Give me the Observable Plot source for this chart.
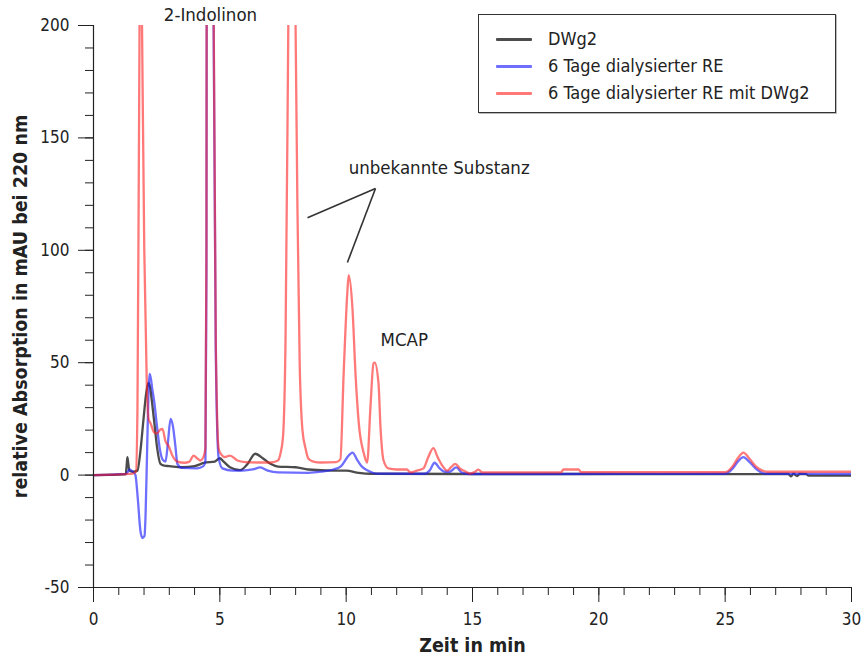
<!DOCTYPE html>
<html><head><meta charset="utf-8">
<script src="https://cdn.jsdelivr.net/npm/d3@7"></script>
<script src="https://cdn.jsdelivr.net/npm/@observablehq/plot@0.6"></script>
<style>
body{margin:0;background:#fff;font-family:"DejaVu Sans Condensed","DejaVu Sans",sans-serif;color:#222}
#wrap{position:relative;width:864px;height:660px}
#legend{position:absolute;left:478px;top:14px;width:358px;height:99px;border:1px solid #333;background:#fff;box-shadow:1px 1px 0 #bbb;box-sizing:border-box}
.item{position:absolute;left:0;height:20px;font-size:18px;line-height:20px;white-space:nowrap}
.item span.sw{position:absolute;left:17px;top:9px;width:36px;height:3px;border-radius:1px}
.item span.tx{position:absolute;left:69px;top:0}
</style></head>
<body><div id="wrap"><div id="chart"></div><div id="legend"></div></div>
<script>
const seriesNames = ["DWg2", "6 Tage dialysierter RE", "6 Tage dialysierter RE mit DWg2"];
const seriesColors = ["#000000", "#2020ff", "#ff2020"];

// [Zeit (min), Absorption (mAU)]
const dwg2 = [[0,0],[1.2,0.3],[1.28,0.5],[1.31,4],[1.34,8],[1.38,5],[1.42,2],[1.55,1.5],[1.74,2],[1.85,10],[1.98,25],[2.08,36],[2.17,41],[2.24,39],[2.32,32],[2.42,22],[2.52,12],[2.65,5],[2.8,4.2],[3.0,4],[3.5,3.5],[4.0,4],[4.4,5.5],[4.8,6],[5.0,7.5],[5.15,6],[5.4,3.5],[5.8,2.2],[6.1,5],[6.4,9.5],[6.7,7.5],[7.0,5],[7.3,3.8],[8.0,3.5],[8.5,2.5],[9.5,2],[10.0,2],[10.5,1],[11,0.6],[15,0.5],[20,0.5],[25,0.4],[27.5,0.5],[27.6,-0.6],[27.7,0.6],[27.85,-0.4],[27.95,0.5],[28.2,0.4],[28.3,-0.2],[30,-0.2]];
const re6 = [[0,0],[1.3,0.5],[1.42,2.5],[1.5,2],[1.6,1],[1.66,0],[1.75,-10],[1.86,-25],[1.94,-28],[2.02,-27],[2.06,-18],[2.12,10],[2.18,38],[2.22,45],[2.27,43],[2.33,38],[2.4,33],[2.52,21],[2.62,12],[2.73,7],[2.85,6],[2.95,15],[3.05,25],[3.14,22],[3.24,13],[3.32,5],[3.5,3.2],[4.1,3],[4.35,4],[4.43,6],[4.47,90],[4.5,450],[4.6,900],[4.67,800],[4.73,240],[4.84,55],[4.95,8],[5.1,3],[5.5,2],[5.9,2],[6.3,2.5],[6.6,3.4],[6.9,2],[7.3,1.2],[8.5,1],[9.0,1.5],[9.5,2.5],[9.8,4],[10.05,8],[10.25,10],[10.45,6.5],[10.6,4],[10.85,2],[11.2,0.7],[13.1,0.6],[13.3,2],[13.5,5.5],[13.7,3],[13.9,1.5],[14.1,1.5],[14.35,3.4],[14.6,1],[14.9,0.5],[18,0.5],[25.0,0.6],[25.3,3],[25.5,6],[25.72,8],[25.95,6],[26.2,3],[26.6,0.6],[30,0.5]];
const re6dwg2 = [[0,0],[1.5,0.5],[1.68,1.5],[1.74,30],[1.8,150],[1.86,260],[1.92,200],[2.01,100],[2.11,40],[2.18,25],[2.26,23],[2.4,19],[2.52,18.5],[2.62,20],[2.73,20.5],[2.85,15],[2.97,13],[3.12,8.7],[3.32,6],[3.6,5.5],[3.8,6],[3.96,8.7],[4.1,7.5],[4.23,6.5],[4.35,8],[4.43,12],[4.47,100],[4.5,500],[4.6,1000],[4.67,900],[4.73,250],[4.84,60],[4.95,12],[5.03,9.6],[5.2,8],[5.4,8.7],[5.7,6.5],[6.0,5.8],[6.5,5.6],[7.0,5.6],[7.3,6.5],[7.4,9.6],[7.5,17],[7.6,60],[7.71,200],[7.85,400],[7.97,230],[8.07,120],[8.16,50],[8.27,20],[8.39,12],[8.5,7.4],[8.7,6],[9.0,5.6],[9.6,5.8],[9.77,7],[9.9,45],[10.05,82],[10.1,89],[10.25,74],[10.37,45],[10.5,23],[10.7,9.6],[10.83,5.6],[10.96,30],[11.08,49.6],[11.13,50],[11.28,40.8],[11.36,21],[11.48,6.5],[11.67,3],[12.0,2.5],[12.4,2.5],[12.55,1.2],[12.8,2],[13.06,3],[13.25,8],[13.45,12],[13.62,8],[13.8,4.3],[14.0,2],[14.15,3.5],[14.32,5],[14.5,3],[14.65,2],[14.9,0.7],[15.1,1.5],[15.23,2.4],[15.4,1.2],[18.5,1.2],[18.6,2.5],[19.2,2.5],[19.3,1.3],[25.0,1.3],[25.3,4],[25.5,7.5],[25.72,10],[25.95,7.5],[26.2,4],[26.67,1.5],[30,1.5]];

const xTicks = [0, 5, 10, 15, 20, 25, 30];
const xMinor = d3.range(0, 31, 1);
const yTicks = [-50, 0, 50, 100, 150, 200];
const yMinor = d3.range(-50, 201, 10);

const labels = [
  {text: "2-Indolinon", x: 4.63, y: 204.5, anchor: "middle"},
  {text: "unbekannte Substanz", x: 10.1, y: 136.4, anchor: "start"},
  {text: "MCAP", x: 11.36, y: 59.9, anchor: "start"}
];
const pointers = [
  {x1: 11.16, y1: 127.5, x2: 8.47, y2: 114.5},
  {x1: 11.16, y1: 127.5, x2: 10.05, y2: 94.6}
];

const toRows = (arr) => arr.map(([t, v]) => ({t, v}));
const series = [dwg2, re6, re6dwg2];
const opac = [0.7, 0.65, 0.6];
const fmt = d => String(d);

const chart = Plot.plot({
  width: 864, height: 660,
  marginTop: 25, marginRight: 13, marginBottom: 73, marginLeft: 93,
  style: {fontFamily: '"DejaVu Sans Condensed","DejaVu Sans",sans-serif', color: "#222", background: "#fff"},
  x: {domain: [0, 30]},
  y: {domain: [-50, 200]},
  marks: [
    ...series.map((s, i) => Plot.line(toRows(s), {x: "t", y: "v", stroke: seriesColors[i], strokeWidth: 2.3, strokeOpacity: opac[i], curve: "monotone-x", clip: true})),
    Plot.axisX({ticks: xMinor, tickSize: 8, text: null, label: null}),
    Plot.axisX({ticks: xTicks, tickSize: 15, tickPadding: 10, fontSize: 17, tickFormat: fmt, label: "Zeit in min", labelAnchor: "center", labelArrow: "none", labelOffset: 64}),
    Plot.axisY({ticks: yMinor, tickSize: 8, text: null, label: null}),
    Plot.axisY({ticks: yTicks, tickSize: 15, tickPadding: 9, fontSize: 17, tickFormat: fmt, label: "relative Absorption in mAU bei 220 nm", labelAnchor: "center", labelArrow: "none", labelOffset: 80}),
    Plot.ruleX([0], {stroke: "#222", strokeWidth: 1.2}),
    Plot.ruleY([-50], {stroke: "#222", strokeWidth: 1.2}),
    Plot.link(pointers, {x1: "x1", y1: "y1", x2: "x2", y2: "y2", stroke: "#333", strokeWidth: 1.6}),
    Plot.text(labels.filter(d => d.anchor === "middle"), {x: "x", y: "y", text: "text", textAnchor: "middle", fontSize: 18.5, fill: "#222", lineAnchor: "middle"}),
    Plot.text(labels.filter(d => d.anchor === "start"), {x: "x", y: "y", text: "text", textAnchor: "start", fontSize: 18.5, fill: "#222", lineAnchor: "middle"})
  ]
});
document.getElementById("chart").appendChild(chart);
// bold axis labels
chart.querySelectorAll("g[aria-label='x-axis label'] text, g[aria-label='y-axis label'] text").forEach(t => {t.style.fontWeight = "bold"; t.style.fontSize = "19.5px";});

const legend = document.getElementById("legend");
seriesNames.forEach((n, i) => {
  const d = document.createElement("div");
  d.className = "item";
  d.style.top = (14 + i * 27) + "px";
  d.innerHTML = `<span class="sw" style="background:${seriesColors[i]};opacity:${opac[i]}"></span><span class="tx">${n}</span>`;
  legend.appendChild(d);
});
</script></body></html>
